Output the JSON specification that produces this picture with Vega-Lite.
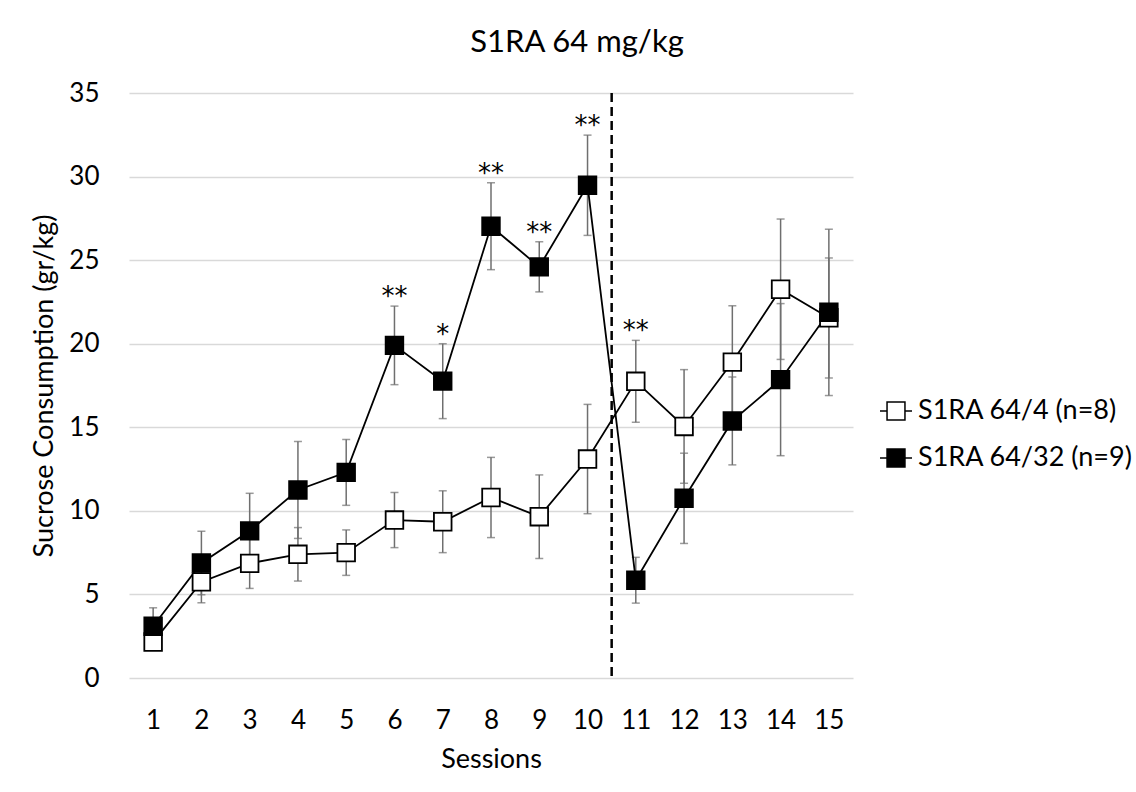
{
  "$schema": "https://vega.github.io/schema/vega-lite/v6.json",
  "width": 724,
  "height": 585,
  "autosize": "none",
  "padding": {"left": 129, "top": 93, "right": 283, "bottom": 114},
  "background": "white",
  "config": {
    "font": "Lato",
    "view": {"stroke": null},
    "axis": {"labelColor": "black", "titleColor": "black", "labelFont": "Lato", "titleFont": "Lato", "titleFontWeight": "normal"}
  },
  "title": {"text": "S1RA 64 mg/kg", "fontSize": 31, "fontWeight": "normal", "color": "black", "font": "Lato", "anchor": "middle", "frame": "group", "dx": 86, "offset": 21},
  "datasets": {
    "main": [
      {"session": 1, "group": "S1RA 64/4 (n=8)", "mean": 2.15, "lo": 1.85, "hi": 2.45, "sig": ""},
      {"session": 2, "group": "S1RA 64/4 (n=8)", "mean": 5.75, "lo": 4.5, "hi": 7.0, "sig": ""},
      {"session": 3, "group": "S1RA 64/4 (n=8)", "mean": 6.86, "lo": 5.36, "hi": 8.36, "sig": ""},
      {"session": 4, "group": "S1RA 64/4 (n=8)", "mean": 7.4, "lo": 5.8, "hi": 9.0, "sig": ""},
      {"session": 5, "group": "S1RA 64/4 (n=8)", "mean": 7.5, "lo": 6.14, "hi": 8.86, "sig": ""},
      {"session": 6, "group": "S1RA 64/4 (n=8)", "mean": 9.45, "lo": 7.8, "hi": 11.1, "sig": ""},
      {"session": 7, "group": "S1RA 64/4 (n=8)", "mean": 9.35, "lo": 7.5, "hi": 11.2, "sig": ""},
      {"session": 8, "group": "S1RA 64/4 (n=8)", "mean": 10.8, "lo": 8.4, "hi": 13.2, "sig": ""},
      {"session": 9, "group": "S1RA 64/4 (n=8)", "mean": 9.65, "lo": 7.15, "hi": 12.15, "sig": ""},
      {"session": 10, "group": "S1RA 64/4 (n=8)", "mean": 13.1, "lo": 9.83, "hi": 16.37, "sig": ""},
      {"session": 11, "group": "S1RA 64/4 (n=8)", "mean": 17.75, "lo": 15.3, "hi": 20.2, "sig": "**"},
      {"session": 12, "group": "S1RA 64/4 (n=8)", "mean": 15.05, "lo": 11.65, "hi": 18.45, "sig": ""},
      {"session": 13, "group": "S1RA 64/4 (n=8)", "mean": 18.9, "lo": 15.53, "hi": 22.27, "sig": ""},
      {"session": 14, "group": "S1RA 64/4 (n=8)", "mean": 23.26, "lo": 19.06, "hi": 27.46, "sig": ""},
      {"session": 15, "group": "S1RA 64/4 (n=8)", "mean": 21.55, "lo": 17.95, "hi": 25.13, "sig": ""},
      {"session": 1, "group": "S1RA 64/32 (n=9)", "mean": 3.1, "lo": 2.0, "hi": 4.2, "sig": ""},
      {"session": 2, "group": "S1RA 64/32 (n=9)", "mean": 6.88, "lo": 4.98, "hi": 8.78, "sig": ""},
      {"session": 3, "group": "S1RA 64/32 (n=9)", "mean": 8.8, "lo": 6.55, "hi": 11.05, "sig": ""},
      {"session": 4, "group": "S1RA 64/32 (n=9)", "mean": 11.25, "lo": 8.35, "hi": 14.15, "sig": ""},
      {"session": 5, "group": "S1RA 64/32 (n=9)", "mean": 12.3, "lo": 10.33, "hi": 14.27, "sig": ""},
      {"session": 6, "group": "S1RA 64/32 (n=9)", "mean": 19.9, "lo": 17.55, "hi": 22.25, "sig": "**"},
      {"session": 7, "group": "S1RA 64/32 (n=9)", "mean": 17.76, "lo": 15.52, "hi": 20.0, "sig": "*"},
      {"session": 8, "group": "S1RA 64/32 (n=9)", "mean": 27.03, "lo": 24.43, "hi": 29.63, "sig": "**"},
      {"session": 9, "group": "S1RA 64/32 (n=9)", "mean": 24.6, "lo": 23.1, "hi": 26.1, "sig": "**"},
      {"session": 10, "group": "S1RA 64/32 (n=9)", "mean": 29.48, "lo": 26.48, "hi": 32.48, "sig": "**"},
      {"session": 11, "group": "S1RA 64/32 (n=9)", "mean": 5.85, "lo": 4.48, "hi": 7.22, "sig": ""},
      {"session": 12, "group": "S1RA 64/32 (n=9)", "mean": 10.75, "lo": 8.05, "hi": 13.45, "sig": ""},
      {"session": 13, "group": "S1RA 64/32 (n=9)", "mean": 15.38, "lo": 12.75, "hi": 18.01, "sig": ""},
      {"session": 14, "group": "S1RA 64/32 (n=9)", "mean": 17.85, "lo": 13.3, "hi": 22.4, "sig": ""},
      {"session": 15, "group": "S1RA 64/32 (n=9)", "mean": 21.88, "lo": 16.9, "hi": 26.85, "sig": ""}
    ],
    "divider": [{"boundary": 10.5}]
  },
  "data": {"name": "main"},
  "encoding": {
    "x": {
      "field": "session", "type": "quantitative",
      "scale": {"domain": [0.5, 15.5], "nice": false, "zero": false},
      "axis": {"values": [1,2,3,4,5,6,7,8,9,10,11,12,13,14,15], "grid": false, "domain": false, "ticks": false, "labelFontSize": 26, "labelPadding": 29, "title": "Sessions", "titleFontSize": 27, "titlePadding": 13, "labelFlush": false}
    }
  },
  "layer": [
    {
      "data": {"name": "divider"},
      "mark": {"type": "rule", "color": "black", "strokeWidth": 2.5, "strokeDash": [9, 5]},
      "encoding": {"x": {"field": "boundary", "type": "quantitative"}}
    },
    {
      "mark": {"type": "rule", "color": "#6f6f6f", "strokeWidth": 1.5},
      "encoding": {
        "y": {"field": "lo", "type": "quantitative", "scale": {"domain": [0, 35], "nice": false},
          "axis": {"values": [0,5,10,15,20,25,30,35], "grid": true, "gridColor": "#d9d9d9", "gridWidth": 1.3, "domain": false, "ticks": false, "labelFontSize": 26, "labelPadding": 30, "title": "Sucrose Consumption (gr/kg)", "titleFontSize": 27, "titlePadding": 10}},
        "y2": {"field": "hi"}
      }
    },
    {
      "mark": {"type": "tick", "color": "#6f6f6f", "thickness": 1.5, "size": 8, "orient": "horizontal"},
      "encoding": {"y": {"field": "lo", "type": "quantitative"}}
    },
    {
      "mark": {"type": "tick", "color": "#6f6f6f", "thickness": 1.5, "size": 8, "orient": "horizontal"},
      "encoding": {"y": {"field": "hi", "type": "quantitative"}}
    },
    {
      "mark": {"type": "line", "color": "black", "strokeWidth": 1.8},
      "encoding": {
        "y": {"field": "mean", "type": "quantitative"},
        "detail": {"field": "group"}
      }
    },
    {
      "mark": {"type": "point", "shape": "square", "filled": true, "size": 310, "stroke": "black", "strokeWidth": 1.8, "opacity": 1},
      "encoding": {
        "y": {"field": "mean", "type": "quantitative"},
        "fill": {
          "field": "group", "type": "nominal",
          "scale": {"domain": ["S1RA 64/4 (n=8)", "S1RA 64/32 (n=9)"], "range": ["white", "black"]},
          "legend": {
            "title": null, "orient": "none", "legendX": 750, "legendY": 301,
            "symbolType": "M-1,0H-0.56M0.56,0H1M-0.56,-0.56H0.56V0.56H-0.56Z",
            "symbolSize": 1024, "symbolStrokeColor": "black", "symbolStrokeWidth": 1.5,
            "labelFontSize": 27, "labelFont": "Lato", "labelColor": "black", "labelLimit": 0, "labelOffset": 5,
            "rowPadding": 17, "padding": 0
          }
        }
      }
    },
    {
      "mark": {"type": "text", "fontSize": 26, "font": "DejaVu Sans", "color": "black", "baseline": "alphabetic", "dy": -1},
      "encoding": {
        "y": {"field": "hi", "type": "quantitative"},
        "text": {"field": "sig"}
      }
    }
  ]
}
